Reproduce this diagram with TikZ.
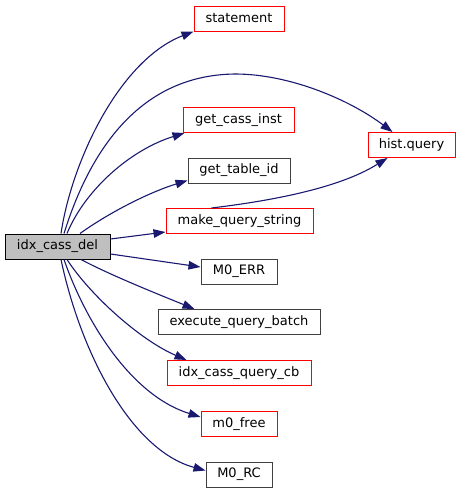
\documentclass[tikz,border=0pt]{standalone}
\usepackage{fontspec}
\setmainfont{DejaVu Sans}
\usetikzlibrary{arrows.meta}
\definecolor{edgeblue}{HTML}{191970}
\definecolor{mainfill}{HTML}{BFBFBF}
\definecolor{boxred}{HTML}{FF0000}
\definecolor{boxgray}{HTML}{404040}
\begin{document}
\begin{tikzpicture}[x=1pt,y=-1pt,
  font=\fontsize{13}{15}\selectfont,
  fn/.style={rectangle,inner sep=0pt,minimum height=25pt,line width=1pt,fill=white},
  redbox/.style={fn,draw=boxred},
  blkbox/.style={fn,draw=boxgray},
  mainbox/.style={fn,draw=black,fill=mainfill},
  call/.style={draw=edgeblue,line width=1.1pt,-{Triangle[length=12pt,width=8.5pt]},fill=none}
]
\useasboundingbox (0,0) rectangle (460,493);
\node[mainbox,minimum width=105pt] (main) at (57.5,246.5) {idx\_cass\_del};
\node[redbox,minimum width=90pt] (stmt) at (239,18.5) {statement};
\node[redbox,minimum width=111pt] (gci) at (238.5,120) {get\_cass\_inst};
\node[blkbox,minimum width=102pt] (gti) at (239,170.5) {get\_table\_id};
\node[redbox,minimum width=147pt] (mqs) at (239.5,221) {make\_query\_string};
\node[blkbox,minimum width=76pt] (err) at (239,271.5) {M0\_ERR};
\node[blkbox,minimum width=162pt] (eqb) at (239,322) {execute\_query\_batch};
\node[redbox,minimum width=144pt] (cb) at (239,373) {idx\_cass\_query\_cb};
\node[redbox,minimum width=76pt] (free) at (239,424) {m0\_free};
\node[blkbox,minimum width=66pt] (rc) at (239,474.5) {M0\_RC};
\node[redbox,minimum width=87pt] (hq) at (411.5,145) {hist.query};

\draw[call] ([xshift=3.5pt]main.north) .. controls (72,160) and (120,60) .. (stmt.south west);
\draw[call] ([xshift=6.5pt]main.north) .. controls (90,150) and (140,75) .. (235,74)
   .. controls (290,74) and (350,100) .. ([xshift=25pt]hq.north west);
\draw[call] ([xshift=9.5pt]main.north) .. controls (85,190) and (130,150) .. ([xshift=2pt]gci.south west);
\draw[call] ([xshift=22.5pt]main.north) .. controls (110,212) and (150,192) .. ([yshift=3pt]gti.south west);
\draw[call] ([yshift=7.5pt]main.east) -- ([yshift=2pt]mqs.south west);
\draw[call] ([yshift=-7.5pt]main.east) -- ([yshift=4.5pt]err.west);
\draw[call] ([xshift=23.5pt]main.south) .. controls (110,275) and (160,295) .. ([xshift=37pt]eqb.north west);
\draw[call] ([xshift=9.5pt]main.south) .. controls (90,295) and (140,340) .. ([xshift=20pt]cb.north west);
\draw[call] ([xshift=6.5pt]main.south) .. controls (85,320) and (130,395) .. ([yshift=-6pt]free.north west);
\draw[call] ([xshift=3.5pt]main.south) .. controls (80,350) and (130,450) .. ([yshift=-9pt]rc.north west);
\draw[call] ([xshift=46pt]mqs.north west) .. controls (320,195) and (360,175) .. ([xshift=20pt]hq.south west);
\end{tikzpicture}
\end{document}
